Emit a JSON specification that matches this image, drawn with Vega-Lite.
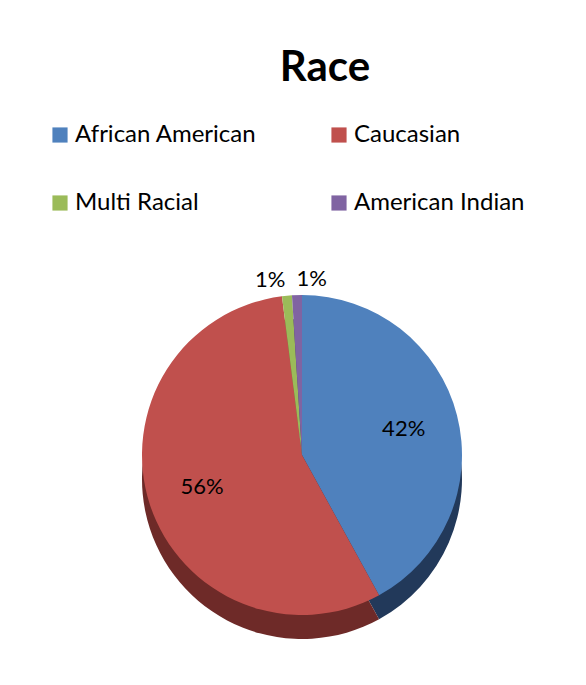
{
  "$schema": "https://vega.github.io/schema/vega-lite/v6.json",
  "autosize": {"type": "none"},
  "width": 568,
  "height": 360,
  "padding": {"left": 18, "top": 275, "right": 0, "bottom": 50},
  "background": "white",
  "title": {
    "text": "Race",
    "font": "Lato",
    "fontSize": 42,
    "fontWeight": "bold",
    "color": "#000000",
    "anchor": "middle",
    "frame": "group",
    "baseline": "alphabetic",
    "offset": 0,
    "dx": 23
  },
  "data": {
    "values": [
      {"race": "African American", "value": 42, "order": 1, "label": "42%"},
      {"race": "Caucasian", "value": 56, "order": 2, "label": "56%"},
      {"race": "Multi Racial", "value": 1, "order": 3, "label": "1%"},
      {"race": "American Indian", "value": 1, "order": 4, "label": "1%"}
    ]
  },
  "encoding": {
    "theta": {"field": "value", "type": "quantitative", "stack": true},
    "order": {"field": "order", "type": "ordinal"}
  },
  "layer": [
    {
      "mark": {"type": "arc", "radius": 160, "yOffset": 24, "strokeWidth": 0},
      "encoding": {
        "color": {
          "field": "race",
          "type": "nominal",
          "scale": {
            "domain": ["African American", "Caucasian", "Multi Racial", "American Indian"],
            "range": ["#22395a", "#6e2a28", "#5f7536", "#4d3c63"]
          },
          "legend": null
        }
      }
    },
    {
      "mark": {"type": "arc", "radius": 160, "strokeWidth": 0},
      "encoding": {
        "color": {
          "field": "race",
          "type": "nominal",
          "scale": {
            "domain": ["African American", "Caucasian", "Multi Racial", "American Indian"],
            "range": ["#4f81bd", "#c0504d", "#9bbb59", "#8064a2"]
          },
          "legend": {
            "orient": "none",
            "legendX": 30,
            "legendY": -152,
            "direction": "horizontal",
            "columns": 2,
            "columnPadding": 70,
            "rowPadding": 44,
            "title": null,
            "padding": 0,
            "symbolType": "square",
            "symbolSize": 230,
            "symbolStrokeWidth": 0,
            "labelFont": "Lato",
            "labelFontSize": 24,
            "labelColor": "#000000",
            "labelOffset": 3,
            "labelLimit": 300
          }
        }
      }
    },
    {
      "mark": {"type": "text", "radius": 105, "font": "Lato", "fontSize": 22, "color": "#000000"},
      "encoding": {
        "text": {"condition": {"test": "datum.value > 5", "field": "label"}, "value": ""}
      }
    },
    {
      "mark": {"type": "text", "radius": 176, "font": "Lato", "fontSize": 22, "color": "#000000", "align": "right"},
      "encoding": {
        "text": {"condition": {"test": "datum.race === 'Multi Racial'", "field": "label"}, "value": ""}
      }
    },
    {
      "mark": {"type": "text", "radius": 176, "font": "Lato", "fontSize": 22, "color": "#000000", "align": "left"},
      "encoding": {
        "text": {"condition": {"test": "datum.race === 'American Indian'", "field": "label"}, "value": ""}
      }
    }
  ],
  "resolve": {"scale": {"color": "independent"}},
  "config": {"view": {"stroke": null}}
}
